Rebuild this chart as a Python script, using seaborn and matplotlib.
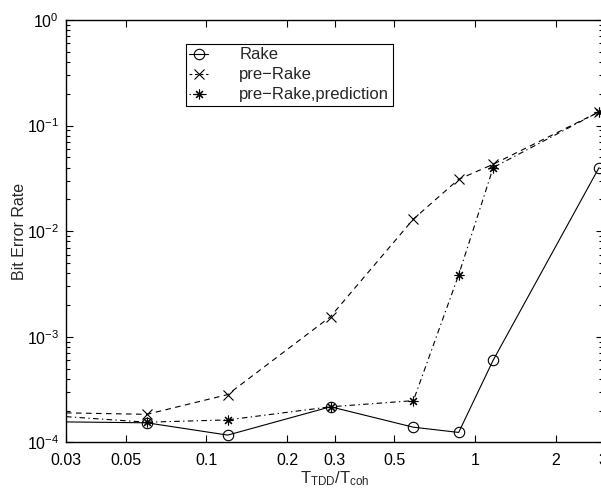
import numpy as np
import pandas as pd
import matplotlib
matplotlib.use("Agg")
import matplotlib.pyplot as plt
import matplotlib.ticker as mticker
from matplotlib.lines import Line2D
import seaborn as sns

# ---- data ----
x_vals = [0.03, 0.06, 0.12, 0.29, 0.59, 0.87, 1.17, 2.9]
ber_rake = [1.56e-4, 1.53e-4, 1.17e-4, 2.17e-4, 1.39e-4, 1.24e-4, 6.0e-4, 4.0e-2]
ber_prerake = [1.9e-4, 1.84e-4, 2.83e-4, 1.55e-3, 1.3e-2, 3.1e-2, 4.3e-2, 1.35e-1]
ber_pred = [1.75e-4, 1.55e-4, 1.63e-4, 2.17e-4, 2.48e-4, 3.85e-3, 4.0e-2, 1.35e-1]
series_names = ["Rake", "pre\u2212Rake", "pre\u2212Rake,prediction"]
xtick_vals = [0.03, 0.05, 0.1, 0.2, 0.3, 0.5, 1, 2, 3]
xtick_labels = ["0.03", "0.05", "0.1", "0.2", "0.3", "0.5", "1", "2", "3"]

df = pd.DataFrame({
    "x": x_vals * 3,
    "ber": ber_rake + ber_prerake + ber_pred,
    "series": [series_names[0]] * len(x_vals)
              + [series_names[1]] * len(x_vals)
              + [series_names[2]] * len(x_vals),
})

sns.set_style("ticks")
plt.rcParams["font.family"] = ["Liberation Sans", "DejaVu Sans"]
plt.rcParams["mathtext.fontset"] = "custom"
plt.rcParams["mathtext.rm"] = "Liberation Sans"
plt.rcParams["mathtext.it"] = "Liberation Sans:italic"

FS = 11.5

fig = plt.figure(figsize=(6.01, 4.88), dpi=100)
ax = fig.add_axes([66 / 601, (488 - 442.3) / 488, 537 / 601, 422.3 / 488])

palette = {n: "black" for n in series_names}
dashes = {series_names[0]: "", series_names[1]: (5, 4), series_names[2]: (5, 3, 1.2, 3)}
marker_map = {series_names[0]: "o", series_names[1]: "x", series_names[2]: (8, 2, 0)}
msize = {series_names[0]: 7.5, series_names[1]: 6.5, series_names[2]: 7.0}

sns.lineplot(data=df, x="x", y="ber", hue="series", style="series",
             palette=palette, markers=False, dashes=dashes,
             hue_order=series_names, style_order=series_names,
             linewidth=0.8, ax=ax, legend=False)

lines = ax.get_lines()[:3]
for line, name in zip(lines, series_names):
    line.set_marker(marker_map[name])
    line.set_markersize(msize[name])
    line.set_markerfacecolor("none")
    line.set_markeredgecolor("black")
    line.set_markeredgewidth(0.8)
    # first point sits on the axis edge without a marker
    line.set_markevery(list(range(1, len(x_vals))))

ax.set_xscale("log")
ax.set_yscale("log")
ax.set_xlim(0.03, 3)
ax.set_ylim(1e-4, 1)

ax.xaxis.set_major_locator(mticker.FixedLocator(xtick_vals))
ax.xaxis.set_major_formatter(mticker.FixedFormatter(xtick_labels))
ax.xaxis.set_minor_locator(mticker.NullLocator())
ax.yaxis.set_major_locator(mticker.LogLocator(base=10, numticks=10))
ax.yaxis.set_minor_locator(mticker.LogLocator(base=10, subs=np.arange(2, 10), numticks=20))
ax.yaxis.set_minor_formatter(mticker.NullFormatter())

ax.tick_params(which="both", direction="in", top=True, right=True,
               labelsize=FS, width=0.8, colors="black")
ax.tick_params(which="major", length=5)
ax.tick_params(which="minor", length=3)
ax.tick_params(axis="x", which="major", pad=8)
ax.tick_params(axis="y", which="major", pad=5)
for s in ax.spines.values():
    s.set_visible(True)
    s.set_linewidth(1.0)
    s.set_color("black")

ax.set_xlabel(r"$\mathregular{T_{TDD}/T_{coh}}$", fontsize=12, labelpad=1)
ax.set_ylabel("Bit Error Rate", fontsize=FS, labelpad=0)

# legend proxies mirroring the drawn line styles
proxies = []
for name in series_names:
    kw = dict(color="black", linewidth=0.8,
              marker=marker_map[name], markersize=msize[name],
              markerfacecolor="none", markeredgecolor="black",
              markeredgewidth=0.8)
    if dashes[name]:
        kw["dashes"] = (2.5, 2.5) if name == series_names[1] else (1.2, 2.0, 3.5, 2.0)
    proxies.append(Line2D([], [], **kw))
leg = ax.legend(proxies, series_names, loc="upper left",
                bbox_to_anchor=((186 - 66) / 537, (442.3 - 44) / 422.3),
                borderaxespad=0, frameon=True, fancybox=False, fontsize=12,
                numpoints=1, handlelength=1.1, labelspacing=0.3,
                borderpad=0.2, handletextpad=1.9)
leg.get_frame().set_edgecolor("black")
leg.get_frame().set_linewidth(0.8)
leg.get_frame().set_alpha(1)

fig.savefig("out.png", dpi=100)
